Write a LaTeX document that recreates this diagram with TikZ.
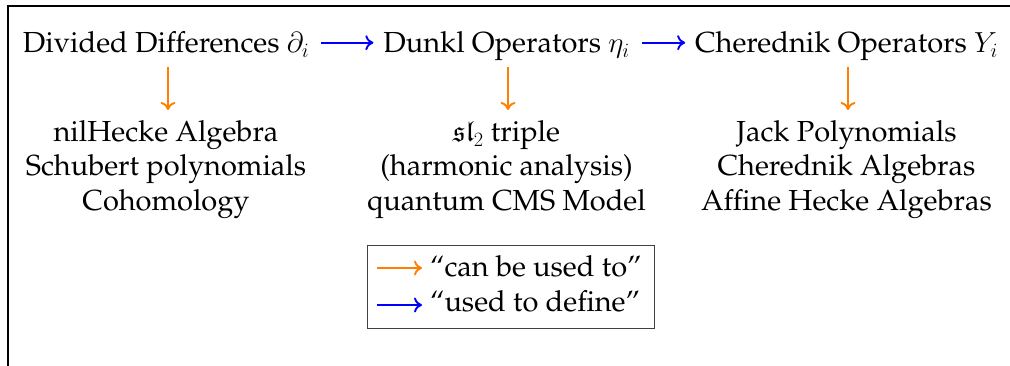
\RequirePackage{fix-cm}
\documentclass[tikz,border=0pt]{standalone}
\usepackage[T1]{fontenc}
\usepackage{palatino}
\usepackage{amssymb}
\usetikzlibrary{arrows.meta}
\definecolor{arrorange}{rgb}{1,0.5,0}
\begin{document}
\begin{tikzpicture}[x=1pt,y=-1pt,
  every node/.style={inner sep=0pt, outer sep=0pt, font=\fontsize{29}{34.2}\selectfont},
  head/.style={anchor=base},
  block/.style={anchor=base, align=center},
  defarrow/.style={draw=blue, line width=1.9pt, -{Computer Modern Rightarrow[length=8pt,width=15pt]}},
  usearrow/.style={draw=arrorange, line width=1.9pt, -{Computer Modern Rightarrow[length=8pt,width=15pt]}},
  legendbox/.style={draw=black!75, line width=0.8pt, minimum width=287pt, minimum height=83pt},
  frame/.style={draw=black, line width=1.6pt}
]
\useasboundingbox (0,0) rectangle (1010,366);
\draw[frame] (8,380) -- (8,6) -- (1030,6);

\node[head] (d) at (166,53) {Divided Differences $\partial_i$};
\node[head] (k) at (506.5,53) {Dunkl Operators $\eta_i$};
\node[head] (c) at (846.5,53) {Cherednik Operators $Y_i$};

% anchor base = baseline of the last line
\node[block] (d2) at (166,210.1) {nilHecke Algebra\\Schubert polynomials\\Cohomology};
\node[block] (k2) at (506.5,210.1) {$\mathfrak{sl}_2$ triple\\(harmonic analysis)\\quantum CMS Model};
\node[block] (c2) at (846.5,210.1) {Jack Polynomials\\Cherednik Algebras\\Affine Hecke Algebras};

\draw[defarrow] ([xshift=12pt,yshift=10.3pt]d.base east) -- ([xshift=-10pt,yshift=10.3pt]k.base west);
\draw[defarrow] ([xshift=12pt,yshift=10.3pt]k.base east) -- ([xshift=-10pt,yshift=10.3pt]c.base west);

\draw[usearrow] ([xshift=2pt,yshift=-14pt]d.base) -- ([xshift=2pt,yshift=100.1pt]d2.base);
\draw[usearrow] ([xshift=1.5pt,yshift=-14pt]k.base) -- ([xshift=1.5pt,yshift=100.1pt]k2.base);
\draw[usearrow] ([xshift=1.5pt,yshift=-14pt]c.base) -- ([xshift=1.5pt,yshift=100.1pt]c2.base);

\node[legendbox] (lg) at (510.5,286.5) {};
\node[anchor=base west] (t1) at (430,276.7) {``can be used to''};
\node[anchor=base west] (t2) at (430,311.7) {``used to define''};
\coordinate (o1) at (377,268);
\coordinate (b1) at (377,305);
\draw[usearrow] (o1) -- ([xshift=-8pt,yshift=8.7pt]t1.base west);
\draw[defarrow] (b1) -- ([xshift=-8pt,yshift=6.7pt]t2.base west);
\end{tikzpicture}
\end{document}
